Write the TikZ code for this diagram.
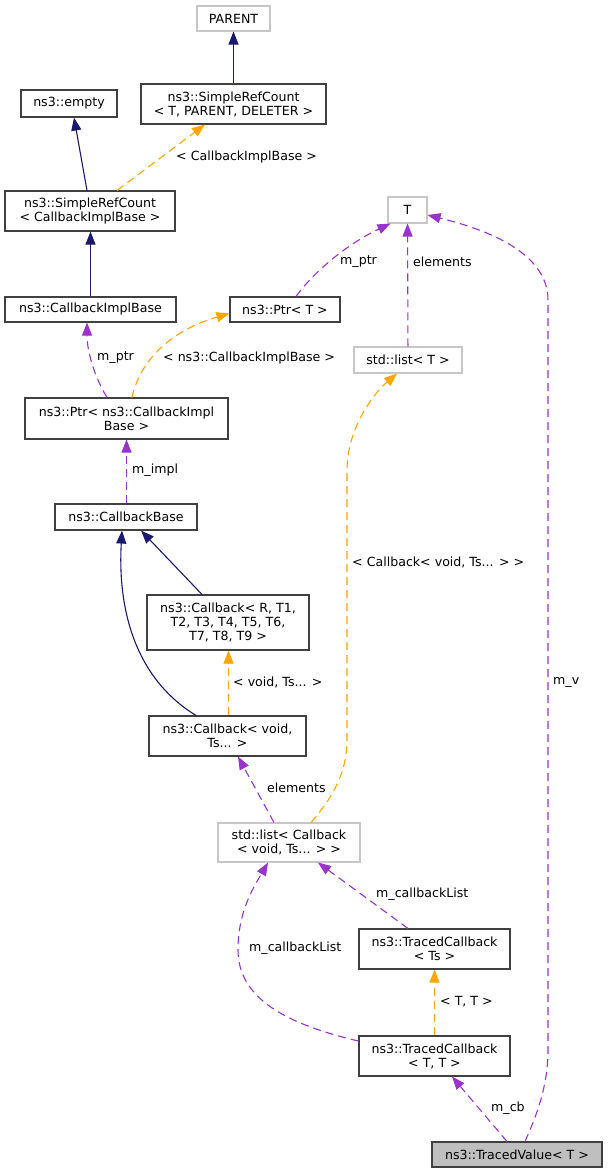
\documentclass[tikz,border=0pt]{standalone}
\usepackage{fontspec}
\setmainfont{DejaVu Sans}
\usetikzlibrary{arrows.meta}
\definecolor{inhcol}{HTML}{191970}
\definecolor{tplcol}{HTML}{FFA500}
\definecolor{usecol}{HTML}{9A32CD}

\begin{document}
\begin{tikzpicture}[x=1pt,y=-1pt,
  cls/.style={draw=black!75, fill=white, line width=1.1pt, inner sep=0pt, align=center, font=\fontsize{12.6}{14}\selectfont},
  extcls/.style={cls, draw=black!22},
  curcls/.style={cls, fill=black!25},
  lbl/.style={inner sep=0pt, anchor=west, font=\fontsize{12.6}{14}\selectfont},
  inh/.style={inhcol, line width=1.1pt, -{Triangle[length=13pt,width=10pt]}},
  tpl/.style={tplcol, line width=1.1pt, dash pattern=on 8pt off 5pt, -{Triangle[length=13pt,width=10pt]}},
  uses/.style={usecol, line width=1.1pt, dash pattern=on 8pt off 5pt, -{Triangle[length=13pt,width=10pt]}}]
\useasboundingbox (0,0) rectangle (608,1173);

% classes
\node[extcls, minimum width=73pt, minimum height=25pt] (parent) at (233.5,18.5) {PARENT};
\node[cls, minimum width=185pt, minimum height=40pt] (srcTPD) at (233.5,104) {ns3::SimpleRefCount\\< T, PARENT, DELETER >};
\node[cls, minimum width=96pt, minimum height=27pt] (empty) at (69,103.5) {ns3::empty};
\node[cls, minimum width=170pt, minimum height=40pt] (srcCIB) at (90,211) {ns3::SimpleRefCount\\< CallbackImplBase >};
\node[cls, minimum width=171pt, minimum height=25pt] (cib) at (90.5,309.5) {ns3::CallbackImplBase};
\node[cls, minimum width=110pt, minimum height=25pt] (ptrT) at (285,309.5) {ns3::Ptr< T >};
\node[extcls, minimum width=39pt, minimum height=26pt] (T) at (407.5,210) {T};
\node[extcls, minimum width=108pt, minimum height=26pt] (listT) at (408,360) {std::list< T >};
\node[cls, minimum width=203pt, minimum height=41pt] (ptrcib) at (126.5,418.5) {ns3::Ptr< ns3::CallbackImpl\\Base >};
\node[cls, minimum width=142pt, minimum height=26pt] (cbase) at (126,517) {ns3::CallbackBase};
\node[cls, minimum width=162pt, minimum height=55pt] (cbR) at (228,622.5) {ns3::Callback< R, T1,\\T2, T3, T4, T5, T6,\\T7, T8, T9 >};
\node[cls, minimum width=157pt, minimum height=40pt] (cbv) at (227.5,736) {ns3::Callback< void,\\Ts... >};
\node[extcls, minimum width=142pt, minimum height=39pt] (lcb) at (289,842.5) {std::list< Callback\\< void, Ts... > >};
\node[cls, minimum width=151pt, minimum height=40pt] (tcTs) at (434.5,949) {ns3::TracedCallback\\< Ts >};
\node[cls, minimum width=151pt, minimum height=40pt] (tcTT) at (434.5,1056) {ns3::TracedCallback\\< T, T >};
\node[curcls, minimum width=170pt, minimum height=25pt] (tv) at (517,1154.5) {ns3::TracedValue< T >};

% inheritance
\draw[inh] (srcTPD) -- (parent);
\draw[inh] ([xshift=-3pt]srcCIB.north) -- ([xshift=5pt]empty.south);
\draw[inh] (cib.north) -- (cib.north |- srcCIB.south);
\draw[inh] ([xshift=-26pt]cbR.north) -- ([xshift=15pt]cbase.south);
\draw[inh] ([xshift=-31.5pt]cbv.north) .. controls (130,675) and (118,600) .. ([xshift=-4pt]cbase.south);

% templates
\draw[tpl] ([xshift=27pt]srcCIB.north) -- ([xshift=-28.5pt]srcTPD.south);
\node[lbl] (lbSrc) at (176,157) {< CallbackImplBase >};
\draw[tpl] ([xshift=5.5pt]ptrcib.north) .. controls (140,360) and (172,330) .. ([yshift=-4pt]ptrT.west);
\node[lbl] (lbPtr) at (163,358) {< ns3::CallbackImplBase >};
\draw[tpl] ([xshift=0.5pt]cbR.south |- cbv.north) -- ([xshift=0.5pt]cbR.south);
\node[lbl] (lbCbv) at (233,682) {< void, Ts... >};
\draw[tpl] ([xshift=22pt]lcb.north) .. controls (335,795) and (347,770) .. (347,740) -- (347,470) .. controls (347,430) and (372,395) .. ([xshift=-11pt]listT.south);
\node[lbl] (lbLcb) at (352,562) {< Callback< void, Ts... > >};
\draw[tpl] (tcTT) -- (tcTs);
\node[lbl] (lbTc) at (440,1002) {< T, T >};

% members
\draw[uses] ([xshift=-19.5pt]ptrcib.north) .. controls (95,378) and (87,352) .. ([xshift=-3.5pt]cib.south);
\node[lbl] (lbMptrA) at (97,358) {m\_ptr};
\draw[uses] ([xshift=11pt]ptrT.north) .. controls (312,274) and (345,245) .. ([xshift=-17pt]T.south);
\node[lbl] (lbMptrB) at (340,262) {m\_ptr};
\draw[uses] (listT) -- (T);
\node[lbl] (lbElemA) at (413,262) {elements};
\draw[uses] (ptrcib.south |- cbase.north) -- (ptrcib.south);
\node[lbl] (lbImpl) at (132,470) {m\_impl};
\draw[uses] ([xshift=-15pt]lcb.north) -- ([xshift=10.5pt]cbv.south);
\node[lbl] (lbElemB) at (267,788) {elements};
\draw[uses] ([xshift=-26.5pt]tcTs.north) -- ([xshift=29pt]lcb.south);
\node[lbl] (lbListA) at (376,894) {m\_callbackList};
\draw[uses] ([yshift=15pt]tcTT.west) .. controls (290,1025) and (238,1000) .. (238,950) .. controls (238,910) and (255,885) .. ([xshift=-21pt]lcb.south);
\node[lbl] (lbListB) at (249,948) {m\_callbackList};
\draw[uses] ([xshift=-10pt]tv.north) -- ([xshift=17.5pt]tcTT.south);
\node[lbl] (lbCb) at (491,1108) {m\_cb};
\draw[uses] ([xshift=8pt]tv.north) .. controls (537,1115) and (548,1085) .. (548,1050) -- (548,300) .. controls (548,250) and (480,228) .. ([yshift=-5pt]T.east);
\node[lbl] (lbV) at (553,682) {m\_v};

\end{tikzpicture}
\end{document}
